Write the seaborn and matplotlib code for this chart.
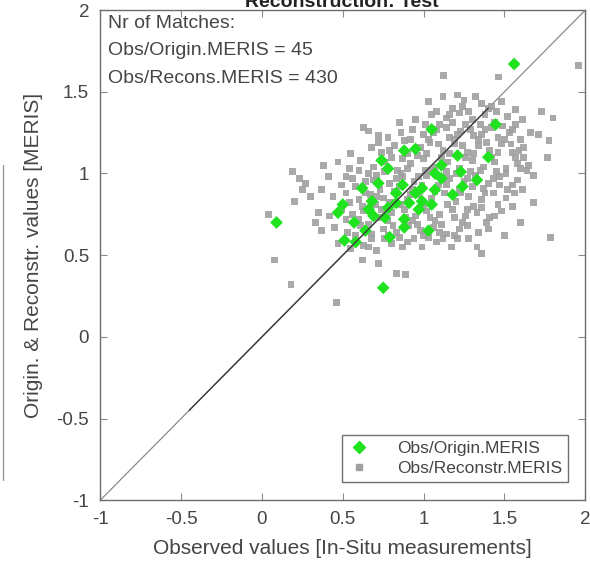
import numpy as np
import pandas as pd
import matplotlib
matplotlib.use("Agg")
import matplotlib.pyplot as plt
from matplotlib.lines import Line2D
import seaborn as sns

# ---------------- data ----------------
orig_x = [1.56, 1.445, 1.05, 0.88, 1.21, 1.40, 0.78, 1.07, 1.23, 1.11, 1.33, 0.62, 0.72, 0.87, 0.99,
          1.18, 0.83, 0.50, 0.68, 0.91, 0.99, 1.05, 0.66, 0.78, 0.97, 0.69, 0.88, 0.57, 0.76, 0.09,
          0.64, 0.88, 1.03, 0.51, 0.58, 0.79, 0.75, 1.11, 1.24, 0.74, 0.95, 1.07, 0.47, 0.95, 0.83]
orig_y = [1.67, 1.30, 1.27, 1.14, 1.11, 1.10, 1.03, 1.00, 1.01, 0.97, 0.96, 0.91, 0.94, 0.93, 0.91,
          0.87, 0.88, 0.81, 0.83, 0.82, 0.83, 0.81, 0.78, 0.79, 0.78, 0.74, 0.72, 0.70, 0.73, 0.70,
          0.65, 0.67, 0.65, 0.59, 0.58, 0.61, 0.30, 1.05, 0.92, 1.08, 0.88, 0.90, 0.76, 1.15, 0.82]

recon_x = [1.03, 1.12, 1.18, 1.25, 1.32, 1.36, 1.42, 1.48, 1.28,
           0.63, 0.66, 0.72, 0.85, 0.95, 1.05, 1.14, 1.22, 1.30, 1.38, 1.45, 1.52, 1.57, 1.61, 1.73, 1.80,
           0.78, 0.86, 0.92, 1.00, 1.08, 1.16, 1.23, 1.31, 1.38, 1.46, 1.53, 1.60, 1.71, 1.775,
           0.55, 0.68, 0.74, 0.82, 0.90, 0.98, 1.04, 1.12, 1.19, 1.27, 1.34, 1.41, 1.48, 1.55, 1.62, 1.765,
           0.19, 0.38, 0.47, 0.54, 0.61, 0.69, 0.76, 0.84, 0.92, 1.00, 1.07, 1.15, 1.22, 1.30, 1.37, 1.44,
           1.51, 1.58, 1.64,
           0.23, 0.27, 0.41, 0.49, 0.56, 0.64, 0.71, 0.79, 0.87, 0.94, 1.02, 1.09, 1.16, 1.25, 1.32, 1.40,
           1.47, 1.55, 1.68,
           0.25, 0.37, 0.30, 0.20, 0.44, 0.52, 0.60, 0.67, 0.75, 0.82, 0.90, 0.97, 1.05, 1.13, 1.20, 1.28,
           1.36, 1.43, 1.51, 1.61, 1.68,
           0.04, 0.35, 0.42, 0.49, 0.56, 0.63, 0.72, 0.80, 0.88, 0.95, 1.02, 1.10, 1.18, 1.26, 1.33, 1.41,
           1.48,
           0.33, 0.37, 0.45, 0.53, 0.61, 0.68, 0.75, 0.83, 0.91, 0.98, 1.06, 1.14, 1.22, 1.34, 1.60, 1.50,
           0.47, 0.55, 0.63, 0.71, 0.80, 0.87, 0.99, 1.08, 1.17, 1.33, 1.36, 1.785,
           0.08, 0.83, 0.89, 0.18, 0.46, 0.62, 0.72,
           1.96, 1.125, 1.465,
           0.58, 0.66, 0.73, 0.86, 0.93, 1.01, 1.08, 1.14, 1.22, 1.29, 1.37, 1.45,
           0.62, 0.70, 0.78, 0.86, 0.93, 1.00, 1.07, 1.15, 1.24, 1.31, 1.39, 1.46,
           0.80, 0.88, 0.96, 1.03, 1.11, 1.19, 1.26, 1.34, 1.42, 1.50, 1.57,
           1.10, 1.18, 1.26, 1.35, 1.44,
           0.68, 0.76, 0.85, 0.94, 1.03, 1.12, 1.21, 1.28,
           1.55, 1.58, 1.52, 1.62, 1.66, 1.57, 1.65,
           0.60, 0.66, 0.74, 0.81, 0.89, 0.96, 1.04, 1.11, 1.19, 1.27, 1.36, 1.44,
           0.54, 0.64, 0.71, 0.79, 0.85, 0.92, 0.99, 1.07, 1.14, 1.23, 1.30, 1.38, 1.47, 1.56,
           0.52, 0.60, 0.69, 0.76, 0.83, 0.90, 0.97, 1.05, 1.12, 1.20, 1.27, 1.35, 1.43, 1.51, 1.60,
           0.72, 0.79, 0.87, 0.95, 1.02, 1.09, 1.16, 1.24, 1.31, 1.39, 1.46, 1.54, 1.59,
           0.93, 1.01, 1.06, 1.14, 1.21, 1.29, 1.36, 1.42, 1.49, 1.55,
           1.08, 1.16, 1.24, 1.40, 1.21,
           0.52, 0.58, 0.66, 0.78, 0.90, 1.00, 1.10, 1.19, 1.27, 1.40]
recon_y = [1.44, 1.47, 1.40, 1.45, 1.47, 1.43, 1.41, 1.44, 1.38,
           1.28, 1.26, 1.23, 1.31, 1.33, 1.36, 1.34, 1.37, 1.33, 1.36, 1.38, 1.35, 1.39, 1.33, 1.38, 1.34,
           1.22, 1.25, 1.21, 1.24, 1.27, 1.22, 1.26, 1.23, 1.27, 1.22, 1.25, 1.21, 1.24, 1.20,
           1.12, 1.16, 1.13, 1.17, 1.12, 1.16, 1.19, 1.14, 1.18, 1.13, 1.17, 1.14, 1.18, 1.13, 1.16, 1.10,
           1.01, 1.05, 1.07, 1.03, 1.08, 1.04, 1.07, 1.02, 1.06, 1.09, 1.04, 1.07, 1.03, 1.08, 1.04, 1.07,
           1.03, 1.06, 1.02,
           0.97, 0.94, 0.98, 0.93, 0.97, 0.95, 0.99, 0.94, 0.98, 0.95, 0.99, 0.93, 0.97, 0.95, 0.99, 0.94,
           0.98, 0.93, 0.99,
           0.90, 0.90, 0.86, 0.83, 0.86, 0.88, 0.84, 0.87, 0.85, 0.89, 0.84, 0.87, 0.85, 0.88, 0.83, 0.86,
           0.84, 0.88, 0.85, 0.90, 0.82,
           0.75, 0.76, 0.74, 0.78, 0.75, 0.77, 0.73, 0.76, 0.78, 0.74, 0.77, 0.75, 0.78, 0.74, 0.76, 0.73,
           0.77,
           0.70, 0.65, 0.67, 0.64, 0.68, 0.63, 0.66, 0.64, 0.68, 0.65, 0.67, 0.63, 0.66, 0.64, 0.70, 0.62,
           0.57, 0.54, 0.56, 0.53, 0.57, 0.55, 0.55, 0.58, 0.55, 0.55, 0.51, 0.61,
           0.47, 0.39, 0.38, 0.32, 0.21, 0.47, 0.45,
           1.66, 1.60, 1.59,
           0.92, 1.00, 0.90, 1.00, 0.90, 1.02, 0.91, 1.01, 0.90, 1.01, 0.91, 1.01,
           0.80, 0.81, 0.71, 0.81, 0.71, 0.81, 0.71, 0.81, 0.70, 0.80, 0.70, 0.81,
           1.10, 1.20, 1.11, 1.21, 1.10, 1.21, 1.10, 1.21, 1.10, 1.21, 1.10,
           1.30, 1.31, 1.30, 1.30, 1.31,
           0.60, 0.60, 0.61, 0.60, 0.61, 0.60, 0.60, 0.60,
           0.80, 0.96, 0.90, 1.10, 1.25, 1.30, 1.05,
           0.72, 0.69, 0.78, 0.68, 0.73, 0.69, 0.73, 0.69, 0.73, 0.78, 0.79, 0.74,
           0.82, 0.88, 0.86, 0.82, 0.92, 0.87, 0.93, 0.89, 0.93, 0.88, 0.92, 0.88, 0.93, 0.88,
           0.98, 1.02, 0.96, 1.01, 0.97, 1.03, 0.98, 1.02, 0.97, 1.00, 0.97, 1.02, 0.97, 1.00, 1.03,
           1.19, 1.14, 1.09, 1.15, 1.12, 1.18, 1.12, 1.17, 1.12, 1.19, 1.13, 1.18, 1.14,
           1.27, 1.30, 1.25, 1.28, 1.24, 1.27, 1.24, 1.28, 1.29, 1.27,
           1.38, 1.36, 1.41, 1.40, 1.48,
           0.72, 0.62, 0.55, 0.62, 0.58, 0.62, 0.64, 0.62, 0.68, 0.66]

series_names = ["Obs/Origin.MERIS", "Obs/Reconstr.MERIS"]
n_orig = 45
n_recon = 430
axis_ticks = [-1, -0.5, 0, 0.5, 1, 1.5, 2]
tick_labels = ["-1", "-0.5", "0", "0.5", "1", "1.5", "2"]
fit_x = [-0.45, 1.40]          # extent of the darker fitted line

# ---------------- figure ----------------
sns.set_theme(style="white")
plt.rcParams["font.family"] = ["Liberation Sans", "DejaVu Sans"]
text_col = "#454545"

fig = plt.figure(figsize=(5.90, 5.62), dpi=100)
ax = fig.add_axes([0.170, 0.110, 0.822, 0.872])

# 1:1 line
ax.plot([-1, 2], [-1, 2], color="#8a8a8a", lw=0.9, zorder=1)

df_r = pd.DataFrame({"x": recon_x, "y": recon_y, "series": series_names[1]})
df_o = pd.DataFrame({"x": orig_x, "y": orig_y, "series": series_names[0]})

sns.scatterplot(data=df_r, x="x", y="y", ax=ax, color="#a0a0a0", marker="s",
                s=24, edgecolor="none", alpha=0.9, legend=False, zorder=2)
sns.scatterplot(data=df_o, x="x", y="y", ax=ax, color="#1fe31f", marker="D",
                s=42, edgecolor="none", legend=False, zorder=3)

# fitted line
ax.plot(fit_x, fit_x, color="#3c3c3c", lw=1.0, zorder=4)

ax.set_xlim(-1, 2)
ax.set_ylim(-1, 2)
ax.set_xticks(axis_ticks)
ax.set_yticks(axis_ticks)
ax.set_xticklabels(tick_labels)
ax.set_yticklabels(tick_labels)
ax.tick_params(direction="in", length=5, width=0.8, top=True, right=True,
               bottom=True, left=True, labelsize=13.5, colors="#8a8a8a",
               labelcolor=text_col, pad=8)
for sp in ax.spines.values():
    sp.set_color("#6e6e6e")
    sp.set_linewidth(1.0)

ax.set_xlabel("Observed values [In-Situ measurements]", fontsize=15,
              color=text_col, labelpad=8)
ax.set_ylabel("Origin. & Reconstr. values [MERIS]", fontsize=15,
              color=text_col, labelpad=10)

# annotation
ax.text(0.015, 0.972, "Nr of Matches:", transform=ax.transAxes, va="center",
        ha="left", fontsize=14, color=text_col)
ax.text(0.015, 0.917, f"Obs/Origin.MERIS = {n_orig}",
        transform=ax.transAxes, va="center", ha="left", fontsize=14, color=text_col)
ax.text(0.015, 0.860, f"Obs/Recons.MERIS = {n_recon}", transform=ax.transAxes,
        va="center", ha="left", fontsize=14, color=text_col)

# legend
handles = [Line2D([], [], marker="D", color="#1fe31f", ls="none", markersize=6),
           Line2D([], [], marker="s", color="#a0a0a0", ls="none", markersize=4)]
leg = ax.legend(handles, series_names, loc="lower right",
                bbox_to_anchor=(0.965, 0.037), borderaxespad=0, fontsize=12.5,
                frameon=True, fancybox=False, edgecolor="#707070", framealpha=1,
                handlelength=1.2, handletextpad=1.6, borderpad=0.35,
                labelspacing=0.25)
for t in leg.get_texts():
    t.set_color(text_col)

# clipped title at the very top (cut off in the reference too)
fig.text(0.58, 0.9875, "Reconstruction: Test", ha="center", va="baseline",
         fontsize=14, fontweight="bold", color="#222222")

# stray edge line of a neighbouring panel
fig.add_artist(Line2D([0.005, 0.005], [1 - 165 / 562, 1 - 480 / 562],
                      color="#9a9a9a", lw=1.0, transform=fig.transFigure))

fig.savefig("out.png", dpi=100)
